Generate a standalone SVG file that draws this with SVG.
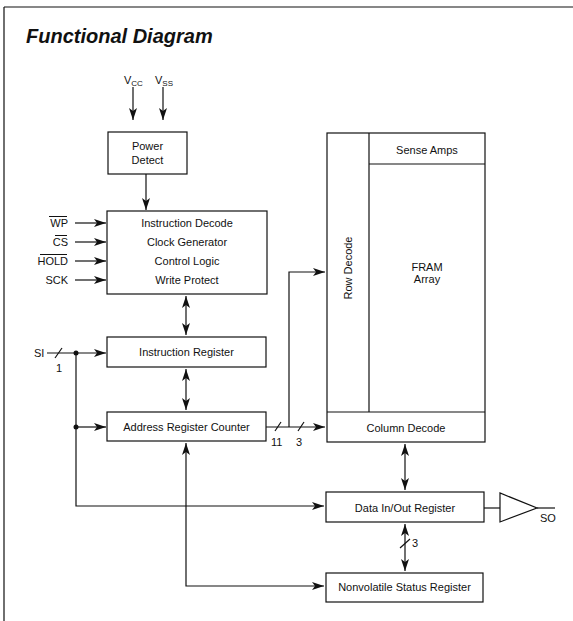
<svg xmlns="http://www.w3.org/2000/svg" width="573" height="621" viewBox="0 0 573 621">
<defs>
<style>
.box{fill:#fff;stroke:#111;stroke-width:1.2}
.ln{fill:none;stroke:#111;stroke-width:1.2}
.t{font-family:"Liberation Sans",Arial,sans-serif;font-size:11px;fill:#111;text-anchor:middle}
.ts{font-family:"Liberation Sans",Arial,sans-serif;font-size:11px;fill:#111}
.title{font-family:"Liberation Sans",Arial,sans-serif;font-size:20px;font-weight:bold;font-style:italic;fill:#111}
</style>
<marker id="ah" viewBox="0 0 12 8" markerWidth="12" markerHeight="8" refX="12" refY="4" orient="auto-start-reverse" markerUnits="userSpaceOnUse">
<path d="M0,0 L12,4 L0,8 L3,4 Z" fill="#111"/>
</marker>
</defs>
<rect width="573" height="621" fill="#fff"/>
<path class="ln" d="M4,7 H573 M4,7 V621"/>
<text class="title" x="26" y="43">Functional Diagram</text>

<g id="vcc"><text class="ts" x="124" y="84">V<tspan font-size="8" dy="2">CC</tspan></text></g>
<g id="vss"><text class="ts" x="155" y="84">V<tspan font-size="8" dy="2">SS</tspan></text></g>

<g id="power-detect">
<rect class="box" x="108" y="132" width="79" height="42"/>
<text class="t" x="147.5" y="150">Power</text>
<text class="t" x="147.5" y="164">Detect</text>
</g>

<g id="instruction-decode">
<rect class="box" x="107" y="211" width="160" height="83"/>
<text class="t" x="187" y="227">Instruction Decode</text>
<text class="t" x="187" y="246">Clock Generator</text>
<text class="t" x="187" y="265">Control Logic</text>
<text class="t" x="187" y="284">Write Protect</text>
</g>

<g id="inputs">
<text class="ts" x="68" y="227" text-anchor="end">WP</text>
<text class="ts" x="68" y="246" text-anchor="end">CS</text>
<text class="ts" x="68" y="265" text-anchor="end">HOLD</text>
<text class="ts" x="68" y="284" text-anchor="end">SCK</text>
<path class="ln" d="M49,216.5 H67 M55,235.5 H67 M40,254.5 H67" stroke-width="1"/>
</g>

<g id="instruction-register">
<rect class="box" x="107" y="337" width="159" height="30"/>
<text class="t" x="186.5" y="356">Instruction Register</text>
</g>

<g id="address-register-counter">
<rect class="box" x="107" y="412" width="159" height="29"/>
<text class="t" x="186.5" y="431">Address Register Counter</text>
</g>

<g id="memory-array">
<rect class="box" x="327" y="133" width="158" height="309"/>
<path class="ln" d="M369,133 V412 M369,164 H485 M327,412 H485"/>
<text class="t" x="427" y="154">Sense Amps</text>
<text class="t" x="427" y="271">FRAM</text>
<text class="t" x="427" y="283">Array</text>
<text class="t" transform="translate(352,268) rotate(-90)">Row Decode</text>
<text class="t" x="406" y="432">Column Decode</text>
</g>

<g id="data-io-register">
<rect class="box" x="326" y="492" width="158" height="30"/>
<text class="t" x="405" y="512">Data In/Out Register</text>
</g>

<g id="output-buffer">
<polygon class="box" points="500,493 500,522 537,508"/>
<text class="ts" x="540" y="522">SO</text>
</g>

<g id="status-register">
<rect class="box" x="326" y="573" width="157" height="29"/>
<text class="t" x="404.5" y="591">Nonvolatile Status Register</text>
</g>

<g id="connectors">
<line class="ln" x1="133" y1="87" x2="133" y2="120" marker-end="url(#ah)"/>
<line class="ln" x1="163" y1="87" x2="163" y2="120" marker-end="url(#ah)"/>
<line class="ln" x1="146" y1="174" x2="146" y2="210" marker-end="url(#ah)"/>
<line class="ln" x1="75" y1="223" x2="106" y2="223" marker-end="url(#ah)"/>
<line class="ln" x1="75" y1="242" x2="106" y2="242" marker-end="url(#ah)"/>
<line class="ln" x1="75" y1="261" x2="106" y2="261" marker-end="url(#ah)"/>
<line class="ln" x1="75" y1="280" x2="106" y2="280" marker-end="url(#ah)"/>
<line class="ln" x1="186" y1="296" x2="186" y2="335" marker-start="url(#ah)" marker-end="url(#ah)"/>
<line class="ln" x1="186" y1="369" x2="186" y2="410" marker-start="url(#ah)" marker-end="url(#ah)"/>
<text class="ts" x="34" y="357">SI</text>
<line class="ln" x1="47" y1="353" x2="106" y2="353" marker-end="url(#ah)"/>
<line class="ln" x1="55" y1="358" x2="62" y2="348"/>
<text class="ts" x="56" y="372">1</text>
<circle cx="76" cy="353" r="2.5" fill="#111"/>
<circle cx="76" cy="427" r="2.5" fill="#111"/>
<path class="ln" d="M76,353 V506 H324" marker-end="url(#ah)"/>
<line class="ln" x1="76" y1="427" x2="106" y2="427" marker-end="url(#ah)"/>
<path class="ln" d="M186,443 V586 H324" marker-start="url(#ah)" marker-end="url(#ah)"/>
<line class="ln" x1="266" y1="427" x2="325" y2="427" marker-end="url(#ah)"/>
<line class="ln" x1="275" y1="431" x2="281" y2="422"/>
<line class="ln" x1="298" y1="431" x2="304" y2="422"/>
<text class="ts" x="271" y="446">11</text>
<text class="ts" x="296" y="446">3</text>
<path class="ln" d="M289,427 V272 H325" marker-end="url(#ah)"/>
<line class="ln" x1="405" y1="444" x2="405" y2="490" marker-start="url(#ah)" marker-end="url(#ah)"/>
<line class="ln" x1="405" y1="524" x2="405" y2="571" marker-start="url(#ah)" marker-end="url(#ah)"/>
<line class="ln" x1="400" y1="548" x2="410" y2="539"/>
<text class="ts" x="412" y="547">3</text>
<line class="ln" x1="484" y1="508" x2="500" y2="508"/>
<line class="ln" x1="537" y1="508" x2="555" y2="508"/>
</g>
</svg>
